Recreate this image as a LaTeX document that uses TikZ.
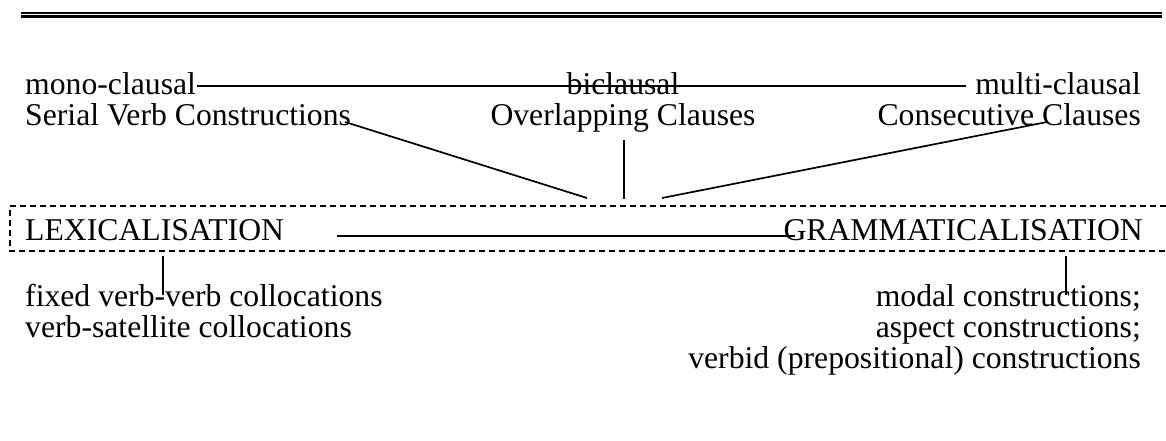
\documentclass[tikz,border=0pt]{standalone}
\usepackage{fontspec}
\setmainfont{Liberation Serif}
\begin{document}
\begin{tikzpicture}[x=1pt,y=-1pt,
  lbl/.style={inner sep=0pt,font=\fontsize{31.7}{38}\selectfont},
  conn/.style={line width=1.7pt},
  dbl/.style={line width=2.2pt},
  dashbox/.style={line width=1.3pt,dash pattern=on 6pt off 4pt}]
\useasboundingbox (0,0) rectangle (1166,440);
% top double rule
\coordinate (r1a) at (21,13);
\coordinate (r1b) at (1162,13);
\coordinate (r2a) at (21,16.5);
\coordinate (r2b) at (1162,16.5);
\draw[dbl] (r1a) -- (r1b);
\draw[dbl] (r2a) -- (r2b);
% upper texts
\node[lbl,anchor=base west] (mono) at (25,94) {mono-clausal};
\node[lbl,anchor=base] (bi) at (623,94) {biclausal};
\node[lbl,anchor=base east] (multi) at (1141,94) {multi-clausal};
\node[lbl,anchor=base west] (svc) at (25,125) {Serial Verb Constructions};
\node[lbl,anchor=base] (oc) at (623,125) {Overlapping Clauses};
\node[lbl,anchor=base east] (cc) at (1141,125) {Consecutive Clauses};
\draw[conn] ([xshift=1pt,yshift=-3pt]mono.east) -- ([xshift=-9pt,yshift=-3pt]multi.west);
% connectors into the box
\coordinate (j1) at (587,198);
\coordinate (j2) at (624,199);
\coordinate (j3) at (662,198);
\draw[conn] ([xshift=-6pt,yshift=3pt]svc.base east) -- (j1);
\draw[conn] ([xshift=1pt,yshift=-8pt]oc.south) -- (j2);
\draw[conn] ([xshift=-94pt,yshift=3pt]cc.base east) -- (j3);
% dashed box (open at right)
\coordinate (b1) at (1166,206);
\coordinate (b2) at (10,206);
\coordinate (b3) at (10,251);
\coordinate (b4) at (1166,251);
\draw[dashbox] (b1) -- (b2) -- (b3) -- (b4);
\node[lbl,anchor=base west] (lex) at (25,240) {LEXICALISATION};
\node[lbl,anchor=base east] (gram) at (1143,240) {GRAMMATICALISATION};
\coordinate (l1) at (337,236);
\draw[conn] (l1) -- ([xshift=12pt]gram.base west |- l1);
% lower texts
\node[lbl,anchor=base west] (fixed) at (25,306) {fixed verb-verb collocations};
\node[lbl,anchor=base west] (vsat) at (25,337) {verb-satellite collocations};
\node[lbl,anchor=base east] (modal) at (1141,306) {modal constructions;};
\node[lbl,anchor=base east] (aspect) at (1141,337) {aspect constructions;};
\node[lbl,anchor=base east] (verbid) at (1141,368) {verbid (prepositional) constructions};
\coordinate (t1a) at (163,256);
\coordinate (t1b) at (163,295);
\coordinate (t2a) at (1066,256);
\coordinate (t2b) at (1066,295);
\draw[conn] (t1a) -- (t1b);
\draw[conn] (t2a) -- (t2b);
\end{tikzpicture}
\end{document}
